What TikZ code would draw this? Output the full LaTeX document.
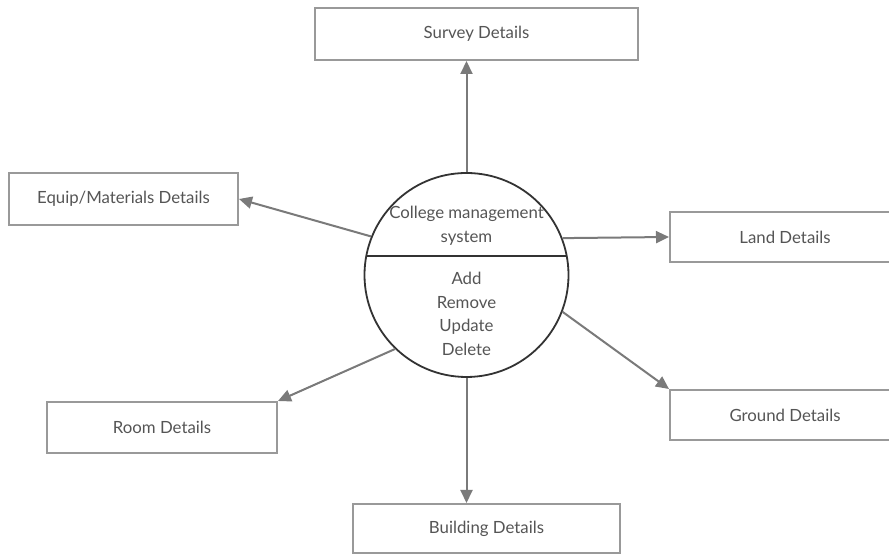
\documentclass[tikz,border=0pt]{standalone}
\usepackage{fontspec}
\setmainfont{Lato}
\usetikzlibrary{arrows.meta}
\definecolor{boxline}{HTML}{999999}
\definecolor{arrline}{HTML}{7A7A7A}
\definecolor{circline}{HTML}{333333}
\definecolor{txt}{HTML}{555555}
\tikzset{
  detbox/.style={draw=boxline, line width=2pt, fill=white, text=txt, font=\fontsize{16.8}{19}\selectfont, inner sep=0pt},
  flow/.style={draw=arrline, line width=2pt, -{Triangle[length=13pt,width=12pt]}},
  ctext/.style={text=txt, font=\fontsize{16.8}{19}\selectfont, inner sep=0pt, anchor=base}
}
\begin{document}
\begin{tikzpicture}[x=1pt,y=1pt]
\useasboundingbox (0,0) rectangle (889,556);
\clip (0,0) rectangle (889,556);
\fill[white] (0,0) rectangle (889,556);
\node[detbox, minimum width=323pt, minimum height=52pt] (survey) at (476.5,522) {Survey Details};
\node[detbox, minimum width=229pt, minimum height=52pt] (equip) at (123.5,357) {Equip/Materials Details};
\node[detbox, minimum width=230pt, minimum height=50pt] (land) at (785,319) {Land Details};
\node[detbox, minimum width=230pt, minimum height=50pt] (ground) at (785,141) {Ground Details};
\node[detbox, minimum width=230pt, minimum height=51pt] (room) at (162,128.5) {Room Details};
\node[detbox, minimum width=267pt, minimum height=49pt] (building) at (486.5,27.5) {Building Details};
\node[circle, draw=circline, line width=1.8pt, minimum size=204pt, inner sep=0pt] (c) at (466.5,281) {};
\coordinate (chl) at (366.3,300);
\coordinate (chr) at (566.7,300);
\draw[circline, line width=1.8pt] (chl) -- (chr);
\node[ctext] (t1) at (466.5,337) {College management};
\node[ctext] (t2) at (466.5,313) {system};
\node[ctext] (t3) at (466.5,271) {Add};
\node[ctext] (t4) at (466.5,247.5) {Remove};
\node[ctext] (t5) at (466.5,224) {Update};
\node[ctext] (t6) at (466.5,200.5) {Delete};
\draw[flow] (c.north) -- (c.north |- survey.south);
\draw[flow] (c.south) -- (c.south |- building.north);
\draw[flow] (c.158.5) -- (equip.east);
\draw[flow] (c.21.5) -- (land.west);
\draw[flow] (c.-21.5) -- (ground.north west);
\draw[flow] (c.-134) -- (room.north east);
\end{tikzpicture}
\end{document}
